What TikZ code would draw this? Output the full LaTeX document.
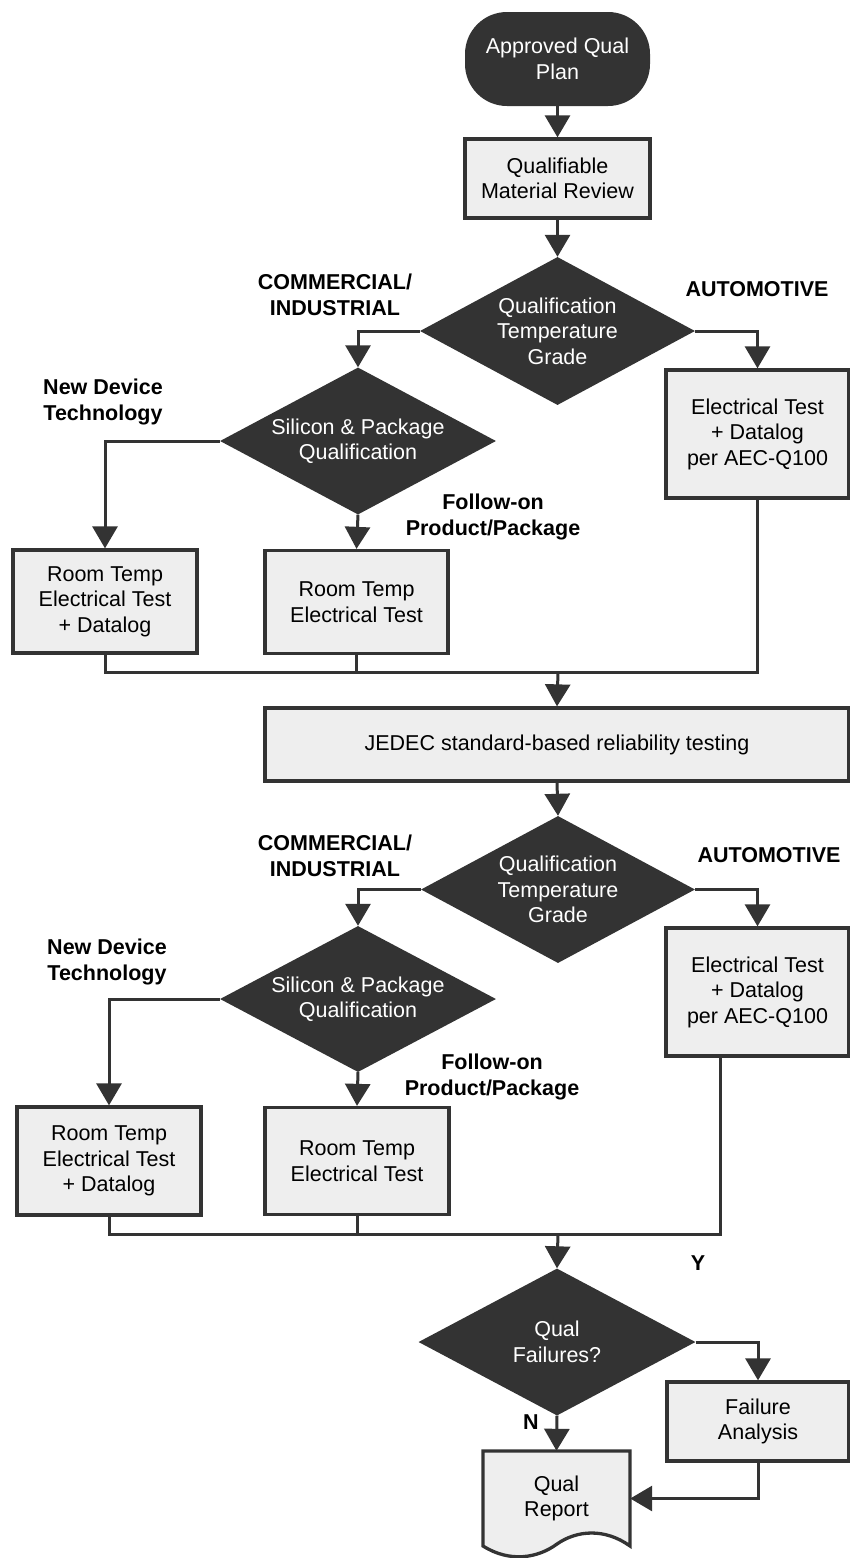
\documentclass[tikz,border=0pt]{standalone}
\usepackage{fontspec}
\setmainfont{Liberation Sans}
\usetikzlibrary{arrows.meta,shapes.geometric}
\definecolor{dk}{HTML}{333333}
\definecolor{lg}{HTML}{EEEEEE}
\begin{document}
\begin{tikzpicture}[x=1pt,y=-1pt,
  every node/.style={font=\fontsize{21.5}{25.5}\selectfont, align=center, inner sep=0pt},
  box/.style={rectangle, draw=dk, fill=lg, line width=3.3pt, text=black},
  dec/.style={diamond, fill=dk, text=white, shape aspect=1.87},
  term/.style={rectangle, rounded corners=42pt, fill=dk, text=white, minimum width=185pt, minimum height=94pt},
  lab/.style={font=\fontsize{21.5}{25.5}\selectfont\bfseries, text=black},
  conn/.style={draw=dk, line width=3pt},
  arr/.style={conn, -{Triangle[length=22pt,width=25pt]}},
]
\useasboundingbox (0,0) rectangle (850,1558);

% ---------- top ----------
\node[term] (start) at (557.5,59) {Approved Qual\\Plan};
\node[box, minimum width=185pt, minimum height=79pt] (qmr) at (557.5,178.5) {Qualifiable\\Material Review};
\node[dec, minimum width=275pt, minimum height=148pt] (d1) at (557.5,331) {Qualification\\Temperature\\Grade};
\node[lab] (ci1) at (335,295) {COMMERCIAL/\\INDUSTRIAL};
\node[lab] (au1) at (757,289) {AUTOMOTIVE};
\node[dec, minimum width=276pt, minimum height=147pt] (d2) at (358,441) {Silicon \& Package\\Qualification};
\node[lab] (nd1) at (103,402) {New Device\\Technology};
\node[lab] (fo1) at (493,517) {Follow-on\\Product/Package};
\node[box, minimum width=184pt, minimum height=103pt] (l1) at (105,601.5) {Room Temp\\Electrical Test\\+ Datalog};
\node[box, minimum width=183pt, minimum height=103pt] (r1) at (356.5,602) {Room Temp\\Electrical Test};
\node[box, minimum width=183pt, minimum height=128pt] (a1) at (757.5,434) {Electrical Test\\+ Datalog\\per AEC-Q100};
\coordinate (m1) at (558,672);
\node[box, minimum width=584pt, minimum height=73pt] (jedec) at (557,744.5) {JEDEC standard-based reliability testing};

\draw[arr] (start.south) -- (qmr.north);
\draw[arr] (qmr.south) -- (d1.north);
\draw[arr] (d1.west) -| (d2.north);
\draw[arr] (d1.east) -| (a1.north);
\draw[arr] (d2.west) -| (l1.north);
\draw[arr] (d2.south) -- (r1.north);
\draw[conn] (l1.south) |- (a1.south |- m1) -- (a1.south);
\draw[conn] (r1.south) -- (r1.south |- m1);
\draw[arr] (m1) -- (jedec.north);

% ---------- second ----------
\node[dec, minimum width=274pt, minimum height=147pt] (d3) at (558,889.5) {Qualification\\Temperature\\Grade};
\node[lab] (ci2) at (335,856) {COMMERCIAL/\\INDUSTRIAL};
\node[lab] (au2) at (769,855) {AUTOMOTIVE};
\node[dec, minimum width=276pt, minimum height=146pt] (d4) at (358,999) {Silicon \& Package\\Qualification};
\node[lab] (nd2) at (107,962) {New Device\\Technology};
\node[lab] (fo2) at (492,1077) {Follow-on\\Product/Package};
\node[box, minimum width=184pt, minimum height=108pt] (l2) at (109,1161) {Room Temp\\Electrical Test\\+ Datalog};
\node[box, minimum width=184pt, minimum height=107pt] (r2) at (357,1161) {Room Temp\\Electrical Test};
\node[box, minimum width=183pt, minimum height=128pt] (a2) at (757.5,992) {Electrical Test\\+ Datalog\\per AEC-Q100};
\coordinate (a2x) at (720,1056);
\coordinate (m2) at (558,1234);

\draw[arr] (jedec.south) -- (d3.north);
\draw[arr] (d3.west) -| (d4.north);
\draw[arr] (d3.east) -| (a2.north);
\draw[arr] (d4.west) -| (l2.north);
\draw[arr] (d4.south) -- (r2.north);
\draw[conn] (l2.south) |- (a2x |- m2) -- (a2x);
\draw[conn] (r2.south) -- (r2.south |- m2);

% ---------- bottom ----------
\node[dec, minimum width=277pt, minimum height=147pt] (d5) at (557,1342) {Qual\\Failures?};
\node[lab] (ylab) at (698,1263) {Y};
\node[lab] (nlab) at (531,1422) {N};
\node[box, minimum width=182pt, minimum height=79pt] (fa) at (758,1421.5) {Failure\\Analysis};
\draw[draw=dk, fill=lg, line width=3.3pt] (483,1451) -- (630,1451) -- (630,1546)
  .. controls (605,1528) and (577,1530) .. (557,1544)
  .. controls (538,1558) and (510,1563) .. (483,1546) -- cycle;
\node[rectangle, minimum width=147pt, minimum height=95pt, text=black] (rep) at (556.5,1498.5) {Qual\\Report};

\draw[arr] (m2) -- (d5.north);
\draw[arr] (d5.east) -| (fa.north);
\draw[arr] (d5.south) -- (rep.north);
\draw[arr] (fa.south) |- (rep.east);
\end{tikzpicture}
\end{document}
